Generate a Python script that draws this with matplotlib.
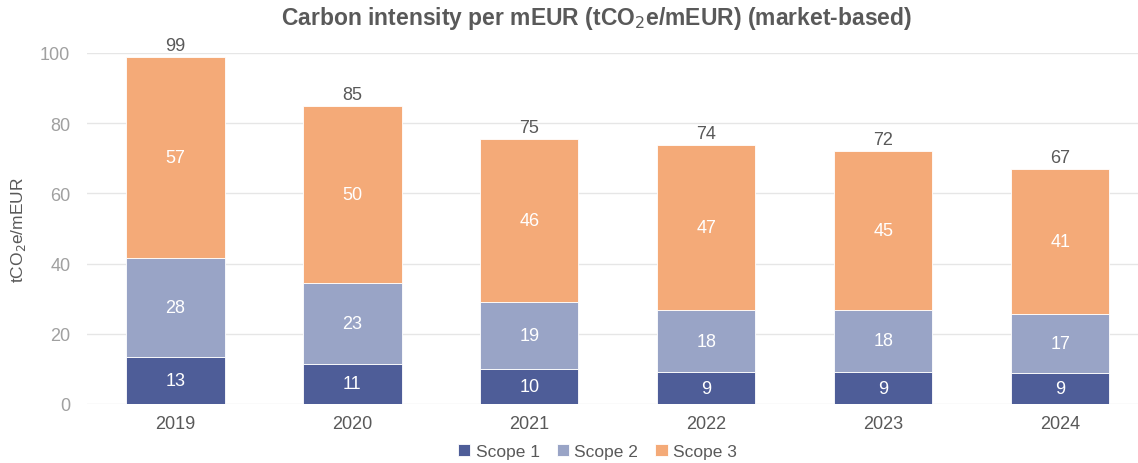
import matplotlib.pyplot as plt
import numpy as np

plt.rcParams['font.family'] = ['Liberation Sans', 'DejaVu Sans']

# data (tCO2e/mEUR)
years = ['2019', '2020', '2021', '2022', '2023', '2024']
scope1 = [13.4, 11.4, 10.0, 9.1, 9.1, 8.8]
scope2 = [28.2, 23.1, 19.1, 17.6, 17.7, 16.8]
scope3 = [57.3, 50.4, 46.4, 47.2, 45.3, 41.4]

labels1 = [13, 11, 10, 9, 9, 9]
labels2 = [28, 23, 19, 18, 18, 17]
labels3 = [57, 50, 46, 47, 45, 41]
totals = [99, 85, 75, 74, 72, 67]

colors = ['#4E5D98', '#99A4C6', '#F4AA78']
names = ['Scope 1', 'Scope 2', 'Scope 3']

fig = plt.figure(figsize=(11.38, 4.64), dpi=100)
ax = fig.add_axes([87 / 1138, 1 - 405 / 464, 1 - 87 / 1138, (405 - 54) / 464])

fs = 13
x = np.arange(len(years))
w = 0.555
bottom = np.zeros(len(years))
for vals, labs, col, name in zip([scope1, scope2, scope3],
                                 [labels1, labels2, labels3], colors, names):
    bars = ax.bar(x, vals, w, bottom=bottom, color=col, label=name,
                  edgecolor='white', linewidth=0.6, zorder=3)
    ax.bar_label(bars, labels=[str(v) for v in labs], label_type='center',
                 color='white', fontsize=fs)
    bottom += np.array(vals)

for xi, top, t in zip(x, bottom, totals):
    ax.annotate(str(t), (xi, top), xytext=(0, 2), textcoords='offset points',
                ha='center', va='bottom', color='#595959', fontsize=fs)

ax.set_xlim(-0.5, len(years) - 0.56)
ax.set_ylim(0, 100)
ax.set_yticks(range(0, 101, 20))
ax.set_xticks(x, years)
ax.yaxis.grid(True, color='#e6e6e6', linewidth=1, zorder=0)
for s in ax.spines.values():
    s.set_visible(False)
ax.tick_params(axis='both', length=0)
ax.tick_params(axis='y', colors='#a0a0a0', labelsize=fs, pad=12)
ax.tick_params(axis='x', colors='#595959', labelsize=fs, pad=8)
ax.set_ylabel('tCO$_2$e/mEUR', color='#595959', fontsize=12.5)
ax.yaxis.set_label_coords(-0.056, 0.5)

fig.suptitle('Carbon intensity per mEUR (tCO$_2$e/mEUR) (market-based)',
             x=0.524, y=0.99, fontsize=16.5, fontweight='bold', color='#595959')

fig.legend(loc='center', bbox_to_anchor=(0.525, 0.024), ncol=3,
           frameon=False, fontsize=12.5, handlelength=0.7, handleheight=0.7,
           handletextpad=0.3, columnspacing=1.0, labelcolor='#595959')

fig.savefig('out.png', dpi=100)
